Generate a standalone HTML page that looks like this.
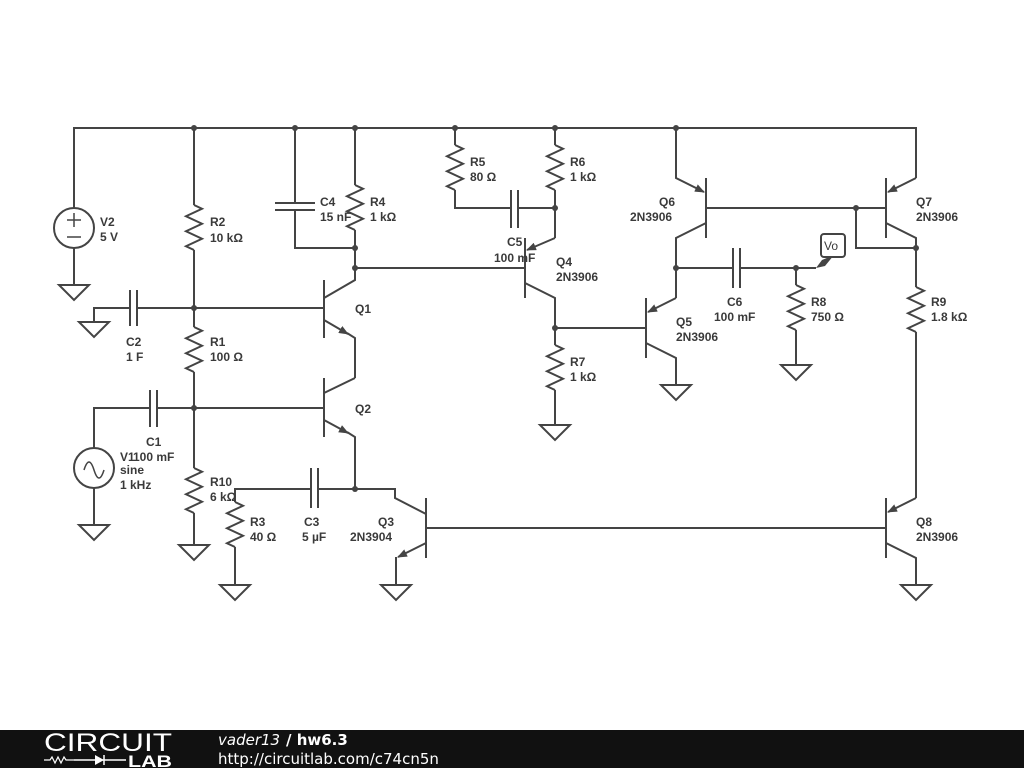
<!DOCTYPE html>
<html><head><meta charset="utf-8"><style>
html,body{margin:0;padding:0;background:#fff;width:1024px;height:768px;overflow:hidden}
svg{display:block}
text{font-family:"Liberation Sans",Arial,sans-serif;font-size:12px;fill:#3a3a3a;font-weight:bold}
</style></head><body>
<svg width="1024" height="768" viewBox="0 0 1024 768" xmlns="http://www.w3.org/2000/svg">
<defs>
<path id="res" d="M0,0 l8,3.75 l-16,7.5 l16,7.5 l-16,7.5 l16,7.5 l-16,7.5 l8,3.75" fill="none" stroke="#444" stroke-width="2"/>
<path id="gnd" d="M-15,0 h30 l-15,15 z" fill="#fff" stroke="#444" stroke-width="2"/>
<marker id="ar" markerWidth="10" markerHeight="8" refX="9" refY="4" orient="auto" markerUnits="userSpaceOnUse"><path d="M0,0 L10,4 L0,8 z" fill="#444"/></marker>
</defs>
<g stroke="#444" stroke-width="2" fill="none">
<path d="M74,208 V128 H916 V178"/>
<circle cx="74" cy="228" r="20" fill="#fff"/>
<path d="M67,220 h14 M74,213 v14 M67,237 h14" stroke-width="1.5"/>
<path d="M74,248 V285"/>
<path d="M194,128 V205 M194,250 V327 M194,372 V468 M194,513 V545"/>
<use href="#res" x="194" y="205"/><use href="#res" x="194" y="327"/><use href="#res" x="194" y="468"/>
<path d="M94,322 V308 H130 M137,308 H324 M130,290 V326 M137,290 V326"/>
<path d="M94,448 V408 H150 M157,408 H324 M150,390 V427 M157,390 V427"/>
<circle cx="94" cy="468" r="20" fill="#fff"/>
<path d="M84,470 q5,-16 10,0 t10,0" stroke-width="1.5"/>
<path d="M94,488 V525"/>
<path d="M324,280 V338 M324,298 L355,280 V268"/>
<path d="M324,320 L348,334" marker-end="url(#ar)"/><path d="M347,333 L355,338 V378"/>
<path d="M324,378 V437 M324,393 L355,378"/>
<path d="M324,420 L348,433" marker-end="url(#ar)"/><path d="M347,432 L355,437 V489"/>
<path d="M295,128 V203 M295,210 V248 H355 M275,203 H315 M275,210 H315"/>
<path d="M355,128 V185 M355,230 V268 H525"/>
<use href="#res" x="355" y="185"/>
<path d="M455,128 V145 M455,190 V208 H511 M518,208 H555 M511,190 V228 M518,190 V228"/>
<path d="M555,128 V145 M555,190 V238"/>
<use href="#res" x="455" y="145"/><use href="#res" x="555" y="145"/>
<path d="M525,238 V298"/>
<path d="M555,238 L527,250" marker-end="url(#ar)"/>
<path d="M525,283 L555,298 V345 M555,390 V425 M555,328 H646"/>
<use href="#res" x="555" y="345"/>
<path d="M646,298 V358"/>
<path d="M676,298 L648,312" marker-end="url(#ar)"/>
<path d="M676,298 V238 L706,223 M646,343 L676,358 V385"/>
<path d="M706,178 V238"/>
<path d="M676,128 V178 L704,192" marker-end="url(#ar)"/>
<path d="M706,208 H886"/>
<path d="M886,178 V238"/>
<path d="M916,178 L888,192" marker-end="url(#ar)"/>
<path d="M886,223 L916,238 V287 M856,208 V248 H916 M916,332 V498"/>
<use href="#res" x="916" y="287"/>
<path d="M676,268 H733 M740,268 H816 M733,248 V288 M740,248 V288 M796,268 V285 M796,330 V365"/>
<use href="#res" x="796" y="285"/>
<path d="M886,498 V558 M426,528 H886"/>
<path d="M916,498 L888,512" marker-end="url(#ar)"/>
<path d="M886,543 L916,558 V585"/>
<path d="M426,498 V558 M355,489 H395 V498 L426,514"/>
<path d="M426,543 L398,557" marker-end="url(#ar)"/>
<path d="M396,557 V585"/>
<path d="M311,489 H235 V502 M318,489 H355 M311,468 V508 M318,468 V508 M235,547 V585"/>
<use href="#res" x="235" y="502"/>
</g>
<path d="M816,268 L822,260 L834,255 L825,266 Z" fill="#444"/>
<rect x="821" y="234" width="24" height="23" rx="3" fill="#fff" stroke="#444" stroke-width="2"/>
<text x="824" y="250" style="font-weight:normal">Vo</text>
<use href="#gnd" x="74" y="285"/><use href="#gnd" x="94" y="322"/><use href="#gnd" x="94" y="525"/>
<use href="#gnd" x="194" y="545"/><use href="#gnd" x="235" y="585"/><use href="#gnd" x="396" y="585"/>
<use href="#gnd" x="555" y="425"/><use href="#gnd" x="676" y="385"/><use href="#gnd" x="796" y="365"/>
<use href="#gnd" x="916" y="585"/>
<g fill="#444">
<circle cx="194" cy="128" r="3"/><circle cx="295" cy="128" r="3"/><circle cx="355" cy="128" r="3"/>
<circle cx="455" cy="128" r="3"/><circle cx="555" cy="128" r="3"/><circle cx="676" cy="128" r="3"/>
<circle cx="194" cy="308" r="3"/><circle cx="194" cy="408" r="3"/><circle cx="355" cy="248" r="3"/>
<circle cx="355" cy="268" r="3"/><circle cx="555" cy="208" r="3"/><circle cx="555" cy="328" r="3"/>
<circle cx="676" cy="268" r="3"/><circle cx="796" cy="268" r="3"/><circle cx="856" cy="208" r="3"/>
<circle cx="916" cy="248" r="3"/><circle cx="355" cy="489" r="3"/>
</g>
<text x="100" y="226">V2</text><text x="100" y="241">5 V</text>
<text x="210" y="226">R2</text><text x="210" y="242">10 kΩ</text>
<text x="210" y="346">R1</text><text x="210" y="361">100 Ω</text>
<text x="126" y="346">C2</text><text x="126" y="361">1 F</text>
<text x="320" y="206">C4</text><text x="320" y="221">15 nF</text>
<text x="370" y="206">R4</text><text x="370" y="221">1 kΩ</text>
<text x="355" y="313">Q1</text><text x="355" y="413">Q2</text>
<text x="470" y="166">R5</text><text x="470" y="181">80 Ω</text>
<text x="570" y="166">R6</text><text x="570" y="181">1 kΩ</text>
<text x="507" y="246">C5</text><text x="494" y="262">100 mF</text>
<text x="556" y="266">Q4</text><text x="556" y="281">2N3906</text>
<text x="570" y="366">R7</text><text x="570" y="381">1 kΩ</text>
<text x="659" y="206">Q6</text><text x="630" y="221">2N3906</text>
<text x="676" y="326">Q5</text><text x="676" y="341">2N3906</text>
<text x="727" y="306">C6</text><text x="714" y="321">100 mF</text>
<text x="811" y="306">R8</text><text x="811" y="321">750 Ω</text>
<text x="916" y="206">Q7</text><text x="916" y="221">2N3906</text>
<text x="931" y="306">R9</text><text x="931" y="321">1.8 kΩ</text>
<text x="146" y="446">C1</text><text x="120" y="461">V1</text><text x="133" y="461">100 mF</text>
<text x="120" y="474">sine</text><text x="120" y="489">1 kHz</text>
<text x="210" y="486">R10</text><text x="210" y="501">6 kΩ</text>
<text x="250" y="526">R3</text><text x="250" y="541">40 Ω</text>
<text x="304" y="526">C3</text><text x="302" y="541">5 µF</text>
<text x="378" y="526">Q3</text><text x="350" y="541">2N3904</text>
<text x="916" y="526">Q8</text><text x="916" y="541">2N3906</text>
<rect x="0" y="730" width="1024" height="38" fill="#111"/>
<text x="44" y="751" textLength="128" lengthAdjust="spacingAndGlyphs" style="font-size:25px;font-weight:normal;fill:#fff">CIRCUIT</text>
<path d="M44,760 h6 l2,-3 l3,6 l3,-6 l3,6 l3,-6 l2,3 h8" stroke="#fff" stroke-width="1.2" fill="none"/>
<path d="M74,760 h52 M104,755 v10" stroke="#fff" stroke-width="1.5"/>
<path d="M95,755 L104,760 L95,765 Z" fill="#fff"/>
<text x="128" y="767" textLength="44" lengthAdjust="spacingAndGlyphs" style="font-size:17px;fill:#fff;font-weight:bold">LAB</text>
<text x="218" y="745" style="font-family:'DejaVu Sans',sans-serif;font-size:15px;fill:#fff;font-weight:normal;font-style:italic">vader13</text>
<text x="286" y="745" style="font-family:'DejaVu Sans',sans-serif;font-size:15px;fill:#fff">/ hw6.3</text>
<text x="218" y="764" style="font-family:'DejaVu Sans',sans-serif;font-size:15px;fill:#fff;font-weight:normal">http://circuitlab.com/c74cn5n</text>
</svg>
</body></html>
